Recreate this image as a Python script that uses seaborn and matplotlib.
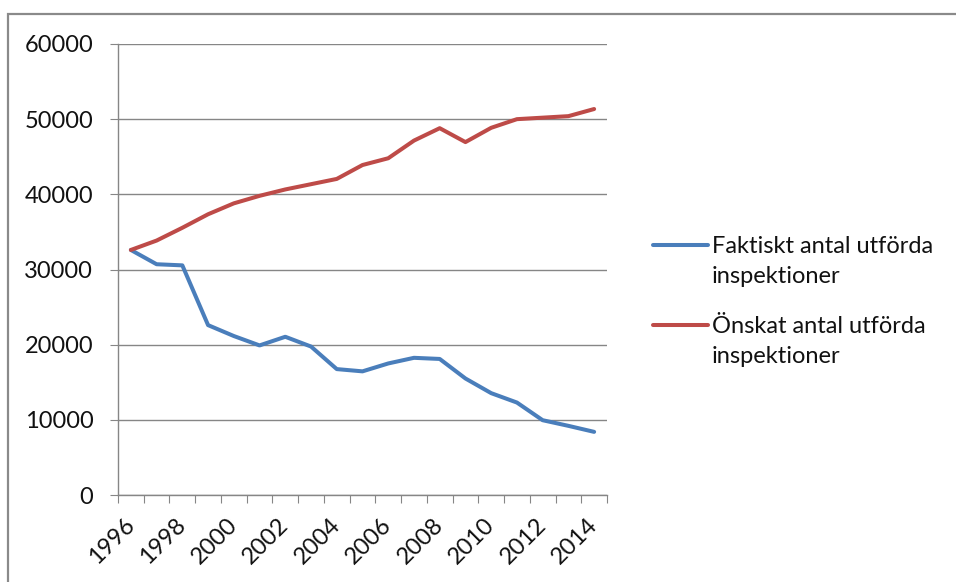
import matplotlib
matplotlib.use("Agg")
import matplotlib.pyplot as plt
from matplotlib.patches import Rectangle
from matplotlib.ticker import FixedLocator
import seaborn as sns
import pandas as pd

# Antal inspektioner per år
years = list(range(1996, 2015))
faktiskt = [32600, 30700, 30550, 22600, 21150, 19900, 21050, 19750, 16750, 16450,
            17500, 18250, 18100, 15500, 13550, 12300, 9950, 9200, 8400]
onskat = [32600, 33850, 35550, 37350, 38800, 39800, 40650, 41350, 42050, 43900,
          44800, 47150, 48800, 46950, 48850, 50000, 50200, 50400, 51350]
series_names = ["Faktiskt antal utförda\ninspektioner",
                "Önskat antal utförda\ninspektioner"]
series_colors = ["#4A7EBB", "#BE4B48"]
y_ticks = [0, 10000, 20000, 30000, 40000, 50000, 60000]
x_label_years = list(range(1996, 2015, 2))

df = pd.DataFrame({
    "År": years * 2,
    "Antal": faktiskt + onskat,
    "Serie": [series_names[0]] * len(years) + [series_names[1]] * len(years),
})

sns.set_theme(style="white")
plt.rcParams["font.family"] = ["Lato", "DejaVu Sans"]
FS = 17
GRID = "#868686"

W, H = 956, 582
fig = plt.figure(figsize=(W / 100, H / 100), dpi=100)
ax = fig.add_axes([118 / W, 1 - 495 / H, (607 - 118) / W, (495 - 44) / H])

sns.lineplot(data=df, x="År", y="Antal", hue="Serie",
             palette=dict(zip(series_names, series_colors)),
             linewidth=2.9, legend=False, ax=ax)
for ln in ax.lines:
    ln.set_solid_joinstyle("round")
    ln.set_solid_capstyle("round")

ax.set_xlim(years[0] - 0.5, years[-1] + 0.5)
ax.set_ylim(y_ticks[0], y_ticks[-1])
ax.set_xlabel("")
ax.set_ylabel("")

# y axis
ax.yaxis.set_major_locator(FixedLocator(y_ticks))
ax.set_yticklabels([str(v) for v in y_ticks])
ax.grid(axis="y", color=GRID, linewidth=1.0)
ax.grid(axis="x", visible=False)
ax.tick_params(axis="y", which="major", direction="out", length=5.8, width=0.8,
               color=GRID, pad=12, labelsize=FS, labelcolor="#111111", left=True)

# x axis: labels on every other year, tick marks between categories
ax.xaxis.set_major_locator(FixedLocator(x_label_years))
ax.xaxis.set_minor_locator(FixedLocator([y - 0.5 for y in years] + [years[-1] + 0.5]))
ax.set_xticklabels([str(y) for y in x_label_years], rotation=45,
                   ha="right", va="center", rotation_mode="anchor")
ax.tick_params(axis="x", which="major", length=0, pad=19, labelsize=FS,
               labelcolor="#111111", bottom=True)
ax.tick_params(axis="x", which="minor", direction="out", length=5.8, width=0.8,
               color=GRID, bottom=True)

for side in ("top", "right"):
    ax.spines[side].set_visible(False)
for side in ("left", "bottom"):
    ax.spines[side].set_color(GRID)
    ax.spines[side].set_linewidth(1.0)

leg = ax.legend(handles=ax.lines[:2], labels=series_names, loc="upper left",
                bbox_to_anchor=(653 / W, 1 - 236 / H), bbox_transform=fig.transFigure,
                frameon=False, borderpad=0, borderaxespad=0, fontsize=FS,
                handlelength=2.33, handletextpad=0.17, labelspacing=1.2,
                handleheight=1.0)
for col in leg._legend_handle_box.get_children():
    for row in col.get_children():
        row.align = "top"
for t in leg.get_texts():
    t.set_linespacing(1.55)
    t.set_color("#111111")

# chart area frame
fig.patches.append(Rectangle((8 / W, -0.1), 1.2, 1.1 - 14 / H,
                             transform=fig.transFigure, fill=False,
                             edgecolor="#8a8a8a", linewidth=1.6))

fig.savefig("out.png", dpi=100)
